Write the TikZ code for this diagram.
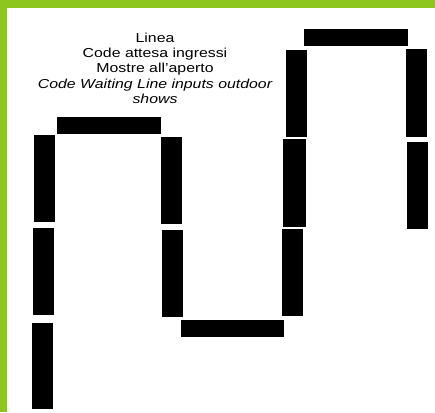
\documentclass[tikz,border=0pt]{standalone}
\usepackage{fontspec}
\setmainfont{Liberation Sans}
\definecolor{frame}{RGB}{140,198,30}
\tikzset{bar/.style={fill=black,draw=none}}
\begin{document}
\begin{tikzpicture}[x=1pt,y=-1pt]
\useasboundingbox (0,0) rectangle (435,412);
\fill[white] (0,0) rectangle (435,412);
\fill[frame] (0,0) rectangle (435,8);
\fill[frame] (0,0) rectangle (7,412);
% left column
\fill[bar] (34,135) rectangle (55,222);
\fill[bar] (33,228) rectangle (54,315);
\fill[bar] (32,323) rectangle (53,409);
% top-left horizontal
\fill[bar] (57,117) rectangle (161,134);
% middle column
\fill[bar] (161,137) rectangle (182,224);
\fill[bar] (162,230) rectangle (183,317);
% bottom horizontal
\fill[bar] (181,320) rectangle (284,337);
% right-middle column
\fill[bar] (283,139) rectangle (306,227);
\fill[bar] (282,229) rectangle (303,316);
\fill[bar] (286,50) rectangle (307,137);
% top-right horizontal
\fill[bar] (304,29) rectangle (408,46);
% far right column
\fill[bar] (406,49) rectangle (427,137);
\fill[bar] (407,142) rectangle (428,229);
\node[anchor=base, align=center, font=\fontsize{13}{15.2}\selectfont, inner sep=0pt, xscale=1.22, transform shape] (title) at (155,103.3)
  {Linea\\Code attesa ingressi\\Mostre all'aperto\\\itshape Code Waiting Line inputs outdoor\\\itshape shows};
\end{tikzpicture}
\end{document}
